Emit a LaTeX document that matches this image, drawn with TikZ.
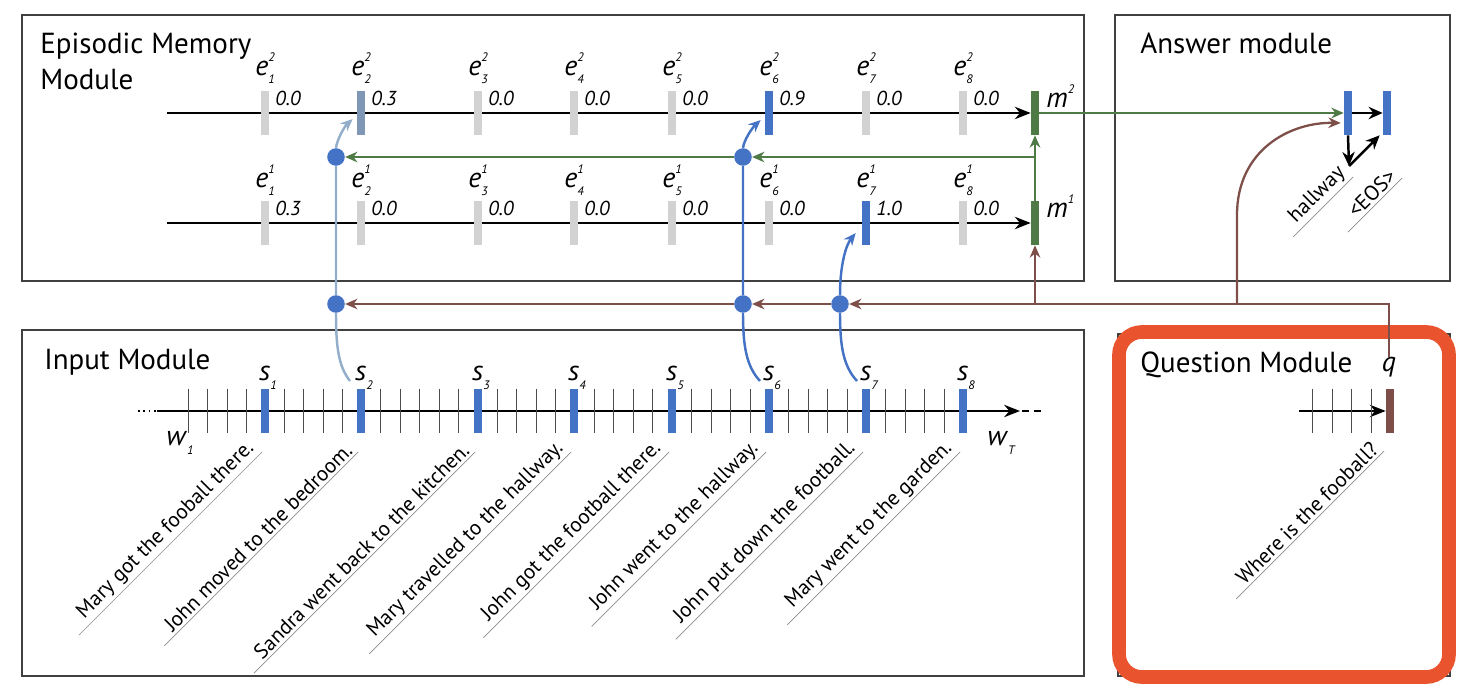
\documentclass[tikz,border=0pt]{standalone}
\usepackage{fontspec}
\setmainfont{PT Sans}
\usepackage{xcolor}
\usepackage{tikz}
\usetikzlibrary{positioning,calc,arrows.meta}

\definecolor{barblue}{HTML}{4472C4}
\definecolor{bargray}{HTML}{D2D2D2}
\definecolor{barpale}{HTML}{7F97B4}
\definecolor{linkpale}{HTML}{93AECB}
\definecolor{memgreen}{HTML}{4E7A46}
\definecolor{qbrown}{HTML}{7D4F48}
\definecolor{hilite}{HTML}{E9542F}

% symbol with small upper and lower index
\newcommand{\idx}[3]{\textit{#1}\rlap{\raisebox{0.5em}{\fontsize{7}{7}\selectfont\itshape #2}}\raisebox{-0.3em}{\fontsize{7}{7}\selectfont\itshape #3}}

\tikzset{
  modbox/.style={draw=black!75, line width=1.1pt},
  title/.style={anchor=north west, inner sep=0pt, align=left, font=\fontsize{16.5}{20}\selectfont},
  bar/.style={rectangle, inner sep=0pt, minimum width=4.5pt, minimum height=25pt},
  tick/.style={draw=black!70, line width=0.5pt},
  axis/.style={line width=1.4pt, -{Stealth[length=9pt,width=7pt]}},
  lbl/.style={inner sep=0pt, font=\fontsize{16}{18}\selectfont},
  val/.style={anchor=west, inner sep=0pt, font=\fontsize{11.5}{12}\selectfont\itshape},
  sent/.style={rotate=45, anchor=south east, inner sep=1.5pt, font=\fontsize{12}{13}\selectfont},
  uline/.style={draw=black!45, line width=0.4pt},
  dot/.style={circle, fill=barblue, inner sep=0pt, minimum size=10pt},
  arrowed/.style={-{Stealth[length=7pt,width=6pt]}},
  gline/.style={draw=memgreen, line width=1.6pt, arrowed},
  bline/.style={draw=qbrown, line width=1.3pt, arrowed},
  slink/.style={draw=barblue, line width=1.4pt, arrowed},
}

\begin{document}
\begin{tikzpicture}[x=0.02cm,y=-0.02cm]
\useasboundingbox (0,0) rectangle (1464,692);

\draw[modbox] (22,15) rectangle (1084,281);
\draw[modbox] (1115,15) rectangle (1450,281);
\draw[modbox] (22,330) rectangle (1084,676);
\draw[modbox] (1118,334) rectangle (1450,676);
\draw[draw=hilite, line width=7.8pt, rounded corners=13pt] (1119,332) rectangle (1449,677);

\node[title] (memtitle) at (40,33) {Episodic Memory\\Module};
\node[title] (anstitle) at (1140,33) {Answer module};
\node[title] (inptitle) at (44,349) {Input Module};
\node[title] (qtitle) at (1140,352) {Question Module};

\node[bar, fill=memgreen] (m2) at (1035,113) {};
\node[bar, fill=memgreen] (m1) at (1035,223) {};
\node[lbl, anchor=west] (lm2) at (1046,100) {\idx{m}{2}{}};
\node[lbl, anchor=west] (lm1) at (1046,210) {\idx{m}{1}{}};
\node[bar, fill=barblue] (a1) at (1348,113) {};
\node[bar, fill=barblue] (a2) at (1387,113) {};
\node[bar, fill=qbrown] (qbar) at (1390,411) {};
\node[lbl] (qlab) at (1389,367) {\textit{q}};

\node[dot] (c2t) at (336,157) {};
\node[dot] (c6t) at (743,157) {};
\node[dot] (c2b) at (336,304) {};
\node[dot] (c6b) at (743,304) {};
\node[dot] (c7b) at (840,304) {};

\draw[axis] (167,113) -- (m2.west);
\draw[axis] (167,223) -- (m1.west);
\draw[axis] (157,411) -- (1020,411);
\draw[line width=1pt, dotted] (138,411) -- (157,411);
\draw[line width=1pt, dash pattern=on 4pt off 3pt] (1022,411) -- (1044,411);
\draw[axis] (1299,411) -- (qbar.west);

\foreach \x in {188,207,227,246,284,303,323,342,380,400,419,439,458,497,516,536,555,594,613,633,652,691,711,730,750,788,808,827,847,885,905,924,944,1312,1332,1351,1371}
  \draw[tick] (\x,389) -- (\x,433);

\foreach \x/\vb/\va/\cb/\ca/\txt [count=\i] in {
  265/0.0/0.3/bargray/bargray/Mary got the fooball there.,
  361/0.3/0.0/barpale/bargray/John moved to the bedroom.,
  478/0.0/0.0/bargray/bargray/Sandra went back to the kitchen.,
  574/0.0/0.0/bargray/bargray/Mary travelled to the hallway.,
  672/0.0/0.0/bargray/bargray/John got the football there.,
  769/0.9/0.0/barblue/bargray/John went to the hallway.,
  866/0.0/1.0/bargray/barblue/John put down the football.,
  963/0.0/0.0/bargray/bargray/Mary went to the garden.}{
  \node[bar, fill=\cb] (e2\i) at (\x,113) {};
  \node[bar, fill=\ca] (e1\i) at (\x,223) {};
  \node[bar, fill=barblue] (s\i) at (\x,411) {};
  \node[lbl] (le2\i) at (\x,68) {\idx{e}{2}{\i}};
  \node[lbl] (le1\i) at (\x,180) {\idx{e}{1}{\i}};
  \node[val] (v2\i) at (\x+10,98) {\vb};
  \node[val] (v1\i) at (\x+10,208) {\va};
  \node[lbl] (ls\i) at (\x+3,378) {\idx{s}{}{\i}};
  \node[sent] (sen\i) at (\x-3,452) {\txt};
  \draw[uline] ($(sen\i.south west)!-7pt!(sen\i.south east)$) -- (sen\i.south east);
}
\node[lbl] (w1) at (180,443) {\idx{w}{}{1}};
\node[lbl] (wT) at (1001,443) {\idx{w}{}{T}};

\node[sent] (qsen) at (1384,451) {Where is the fooball?};
\draw[uline] ($(qsen.south west)!-7pt!(qsen.south east)$) -- (qsen.south east);
\node[sent] (hw) at (1353,177) {hallway};
\draw[uline] ($(hw.south west)!-5pt!(hw.south east)$) -- (hw.south east);
\node[sent] (eos) at (1402,178) {<EOS>};
\draw[uline] ($(eos.south west)!-7pt!(eos.south east)$) -- (eos.south east);

\coordinate (aw) at (1349,166);
\draw[line width=1.4pt, -{Stealth[length=8pt,width=7pt]}] (a1.east) -- (a2.west);
\draw[line width=1.4pt, -{Stealth[length=8pt,width=7pt]}] (a1.south) -- (aw);
\draw[line width=1.4pt, -{Stealth[length=8pt,width=7pt]}] (aw) -- ($(a2.south west)+(-3,0)$);

\draw[gline] (m2.east) -- (a1.west);
\draw[gline] (m1.north) -- (m2.south);
\draw[gline] (m1.north |- c6t) -- (c6t);
\draw[gline] (c6t) -- (c2t);

\coordinate (fork) at (1237,304);
\draw[bline] (qlab.north) |- (c7b);
\draw[bline] (c7b) -- (c6b);
\draw[bline] (c6b) -- (c2b);
\draw[bline] (m1.south |- c7b) -- (m1.south);
\draw[bline] (fork) -- (1237,215) .. controls (1237,150) and (1290,122) .. ($(a1.west)+(-3,10)$);

\coordinate (t2) at (350,381);
\coordinate (t6) at (760,381);
\coordinate (t7) at (857,381);
\draw[slink, draw=linkpale] (t2) .. controls (338,366) and (336,345) .. (c2b.south) (c2b.north) -- (c2t.south) (c2t.north) .. controls (337,140) and (344,127) .. ($(e22.west)+(-4,6)$);
\draw[slink] (t6) .. controls (746,366) and (743,345) .. (c6b.south) (c6b.north) -- (c6t.south) (c6t.north) .. controls (744,140) and (752,128) .. ($(e26.west)+(-4,7)$);
\draw[slink] (t7) .. controls (843,366) and (840,345) .. (c7b.south) (c7b.north) .. controls (840,265) and (846,245) .. ($(e17.west)+(-6,10)$);
\end{tikzpicture}
\end{document}
